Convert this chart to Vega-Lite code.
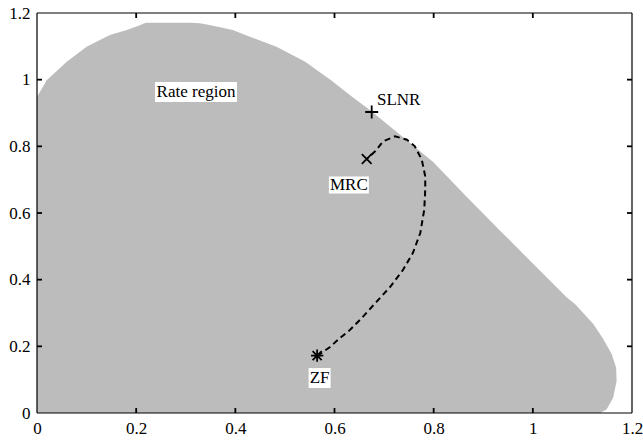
{
  "$schema": "https://vega.github.io/schema/vega-lite/v6.json",
  "width": 595,
  "height": 400,
  "autosize": {"type": "none"},
  "padding": {"left": 37, "top": 13, "right": 11, "bottom": 28},
  "background": "white",
  "config": {
    "view": {"stroke": null},
    "font": "Liberation Serif",
    "axis": {
      "title": null,
      "grid": false,
      "domain": false,
      "ticks": true,
      "tickOpacity": 0,
      "tickSize": -5,
      "labelColor": "black",
      "labelFont": "Liberation Serif",
      "labelFontSize": 17,
      "labelFlush": false,
      "labelOverlap": false
    }
  },
  "datasets": {
    "region": [
      {"rate2": 0.0, "rate1_lo": 0, "rate1_hi": 1.136},
      {"rate2": 0.011, "rate1_lo": 0, "rate1_hi": 1.149},
      {"rate2": 0.046, "rate1_lo": 0, "rate1_hi": 1.162},
      {"rate2": 0.096, "rate1_lo": 0, "rate1_hi": 1.169},
      {"rate2": 0.136, "rate1_lo": 0, "rate1_hi": 1.168},
      {"rate2": 0.177, "rate1_lo": 0, "rate1_hi": 1.159},
      {"rate2": 0.222, "rate1_lo": 0, "rate1_hi": 1.142},
      {"rate2": 0.267, "rate1_lo": 0, "rate1_hi": 1.122},
      {"rate2": 0.327, "rate1_lo": 0, "rate1_hi": 1.085},
      {"rate2": 0.347, "rate1_lo": 0, "rate1_hi": 1.068},
      {"rate2": 0.447, "rate1_lo": 0, "rate1_hi": 1.001},
      {"rate2": 0.547, "rate1_lo": 0, "rate1_hi": 0.934},
      {"rate2": 0.648, "rate1_lo": 0, "rate1_hi": 0.867},
      {"rate2": 0.753, "rate1_lo": 0, "rate1_hi": 0.799},
      {"rate2": 0.85, "rate1_lo": 0, "rate1_hi": 0.72},
      {"rate2": 0.908, "rate1_lo": 0, "rate1_hi": 0.672},
      {"rate2": 0.948, "rate1_lo": 0, "rate1_hi": 0.636},
      {"rate2": 0.998, "rate1_lo": 0.0195, "rate1_hi": 0.593},
      {"rate2": 1.054, "rate1_lo": 0.06, "rate1_hi": 0.541},
      {"rate2": 1.099, "rate1_lo": 0.1, "rate1_hi": 0.483},
      {"rate2": 1.134, "rate1_lo": 0.147, "rate1_hi": 0.42},
      {"rate2": 1.149, "rate1_lo": 0.181, "rate1_hi": 0.395},
      {"rate2": 1.162, "rate1_lo": 0.205, "rate1_hi": 0.355},
      {"rate2": 1.169, "rate1_lo": 0.217, "rate1_hi": 0.329},
      {"rate2": 1.171, "rate1_lo": 0.221, "rate1_hi": 0.309}
    ],
    "lines": [
      {"kind": "frame", "step": 0, "rate1": 0, "rate2": 0},
      {"kind": "frame", "step": 1, "rate1": 1.2, "rate2": 0},
      {"kind": "frame", "step": 2, "rate1": 1.2, "rate2": 1.2},
      {"kind": "frame", "step": 3, "rate1": 0, "rate2": 1.2},
      {"kind": "frame", "step": 4, "rate1": 0, "rate2": 0},
      {"kind": "curve", "step": 0, "rate1": 0.565, "rate2": 0.171},
      {"kind": "curve", "step": 1, "rate1": 0.591, "rate2": 0.198},
      {"kind": "curve", "step": 2, "rate1": 0.611, "rate2": 0.225},
      {"kind": "curve", "step": 3, "rate1": 0.631, "rate2": 0.249},
      {"kind": "curve", "step": 4, "rate1": 0.655, "rate2": 0.285},
      {"kind": "curve", "step": 5, "rate1": 0.685, "rate2": 0.334},
      {"kind": "curve", "step": 6, "rate1": 0.712, "rate2": 0.378},
      {"kind": "curve", "step": 7, "rate1": 0.738, "rate2": 0.429},
      {"kind": "curve", "step": 8, "rate1": 0.758, "rate2": 0.48},
      {"kind": "curve", "step": 9, "rate1": 0.773, "rate2": 0.54},
      {"kind": "curve", "step": 10, "rate1": 0.781, "rate2": 0.61},
      {"kind": "curve", "step": 11, "rate1": 0.783, "rate2": 0.67},
      {"kind": "curve", "step": 12, "rate1": 0.783, "rate2": 0.71},
      {"kind": "curve", "step": 13, "rate1": 0.776, "rate2": 0.76},
      {"kind": "curve", "step": 14, "rate1": 0.762, "rate2": 0.8},
      {"kind": "curve", "step": 15, "rate1": 0.746, "rate2": 0.82},
      {"kind": "curve", "step": 16, "rate1": 0.722, "rate2": 0.83},
      {"kind": "curve", "step": 17, "rate1": 0.698, "rate2": 0.815},
      {"kind": "curve", "step": 18, "rate1": 0.682, "rate2": 0.785},
      {"kind": "curve", "step": 19, "rate1": 0.665, "rate2": 0.762}
    ],
    "points": [
      {"method": "SLNR", "rate1": 0.675, "rate2": 0.903},
      {"method": "MRC", "rate1": 0.665, "rate2": 0.762},
      {"method": "ZF", "rate1": 0.565, "rate2": 0.172},
      {"method": "tick_bottom", "rate1": 0.2, "rate2": 0},
      {"method": "tick_bottom", "rate1": 0.4, "rate2": 0},
      {"method": "tick_bottom", "rate1": 0.6, "rate2": 0},
      {"method": "tick_bottom", "rate1": 0.8, "rate2": 0},
      {"method": "tick_bottom", "rate1": 1, "rate2": 0},
      {"method": "tick_top", "rate1": 0.2, "rate2": 1.2},
      {"method": "tick_top", "rate1": 0.4, "rate2": 1.2},
      {"method": "tick_top", "rate1": 0.6, "rate2": 1.2},
      {"method": "tick_top", "rate1": 0.8, "rate2": 1.2},
      {"method": "tick_top", "rate1": 1, "rate2": 1.2},
      {"method": "tick_left", "rate1": 0, "rate2": 0.2},
      {"method": "tick_left", "rate1": 0, "rate2": 0.4},
      {"method": "tick_left", "rate1": 0, "rate2": 0.6},
      {"method": "tick_left", "rate1": 0, "rate2": 0.8},
      {"method": "tick_left", "rate1": 0, "rate2": 1},
      {"method": "tick_right", "rate1": 1.2, "rate2": 0.2},
      {"method": "tick_right", "rate1": 1.2, "rate2": 0.4},
      {"method": "tick_right", "rate1": 1.2, "rate2": 0.6},
      {"method": "tick_right", "rate1": 1.2, "rate2": 0.8},
      {"method": "tick_right", "rate1": 1.2, "rate2": 1}
    ],
    "labels": [
      {"label": "Rate region", "rate1": 0.3207, "rate2": 0.963},
      {"label": "SLNR", "rate1": 0.7295, "rate2": 0.939},
      {"label": "MRC", "rate1": 0.629, "rate2": 0.684},
      {"label": "ZF", "rate1": 0.57, "rate2": 0.105}
    ]
  },
  "layer": [
    {
      "data": {"name": "region"},
      "mark": {"type": "area", "orient": "horizontal", "color": "#bcbcbc", "interpolate": "linear"},
      "encoding": {
        "y": {
          "field": "rate2",
          "type": "quantitative",
          "scale": {"domain": [0, 1.2], "nice": false, "zero": false},
          "axis": {"values": [0, 0.2, 0.4, 0.6, 0.8, 1, 1.2], "format": "~g", "labelPadding": 12}
        },
        "x": {
          "field": "rate1_lo",
          "type": "quantitative",
          "scale": {"domain": [0, 1.2], "nice": false, "zero": false},
          "axis": {"values": [0, 0.2, 0.4, 0.6, 0.8, 1, 1.2], "format": "~g", "labelPadding": 12}
        },
        "x2": {"field": "rate1_hi"}
      }
    },
    {
      "data": {"name": "lines"},
      "mark": {"type": "line", "color": "black", "interpolate": "linear"},
      "encoding": {
        "x": {"field": "rate1", "type": "quantitative"},
        "y": {"field": "rate2", "type": "quantitative"},
        "order": {"field": "step", "type": "quantitative"},
        "strokeDash": {
          "field": "kind",
          "type": "nominal",
          "legend": null,
          "scale": {"domain": ["curve", "frame"], "range": [[6, 4], [1, 0]]}
        },
        "strokeWidth": {
          "field": "kind",
          "type": "ordinal",
          "legend": null,
          "scale": {"domain": ["curve", "frame"], "range": [2, 1.2]}
        }
      }
    },
    {
      "data": {"name": "labels"},
      "transform": [{"filter": "datum.label != 'SLNR'"}],
      "mark": {"type": "point", "filled": true, "fill": "white", "opacity": 1, "strokeWidth": 0, "size": 10000},
      "encoding": {
        "x": {"field": "rate1", "type": "quantitative"},
        "y": {"field": "rate2", "type": "quantitative"},
        "shape": {
          "field": "label",
          "type": "nominal",
          "legend": null,
          "scale": {
            "domain": ["Rate region", "MRC", "ZF"],
            "range": [
              "M-0.82,-0.2L0.82,-0.2L0.82,0.2L-0.82,0.2Z",
              "M-0.4,-0.17L0.4,-0.17L0.4,0.17L-0.4,0.17Z",
              "M-0.22,-0.2L0.22,-0.2L0.22,0.2L-0.22,0.2Z"
            ]
          }
        }
      }
    },
    {
      "data": {"name": "labels"},
      "mark": {"type": "text", "align": "center", "baseline": "middle", "font": "Liberation Serif", "fontSize": 17, "color": "black"},
      "encoding": {
        "x": {"field": "rate1", "type": "quantitative"},
        "y": {"field": "rate2", "type": "quantitative"},
        "text": {"field": "label"}
      }
    },
    {
      "data": {"name": "points"},
      "mark": {"type": "point", "filled": false, "color": "black", "opacity": 1, "strokeWidth": 1.8, "size": 169},
      "encoding": {
        "x": {"field": "rate1", "type": "quantitative"},
        "y": {"field": "rate2", "type": "quantitative"},
        "shape": {
          "field": "method",
          "type": "nominal",
          "legend": null,
          "scale": {
            "domain": ["SLNR", "MRC", "ZF", "tick_bottom", "tick_top", "tick_left", "tick_right"],
            "range": [
              "M-1,0L1,0M0,-1L0,1",
              "M-0.75,-0.75L0.75,0.75M-0.75,0.75L0.75,-0.75",
              "M-0.95,0L0.95,0M0,-0.95L0,0.95M-0.7,-0.7L0.7,0.7M-0.7,0.7L0.7,-0.7",
              "M0,0L0,-0.77",
              "M0,0L0,0.77",
              "M0,0L0.77,0",
              "M0,0L-0.77,0"
            ]
          }
        }
      }
    }
  ],
  "resolve": {"scale": {"shape": "independent"}}
}
